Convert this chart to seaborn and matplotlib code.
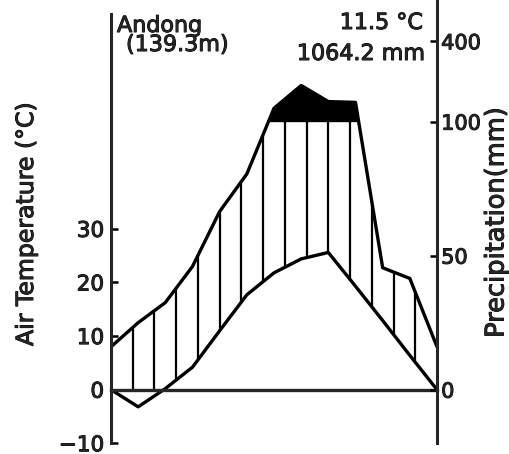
import numpy as np
import pandas as pd
import matplotlib
matplotlib.use('Agg')
import matplotlib.pyplot as plt
import matplotlib.patheffects as pe
import seaborn as sns

# climate diagram data, index 0 and 12 = December (closing the year)
months = list(range(13))
temperature = [0.0, -3.2, 0.2, 4.2, 11.0, 17.7, 21.8, 24.4, 25.6, 19.3, 12.9, 6.4, 0.0]
precipitation = [16.0, 25.0, 32.5, 46.0, 66.5, 80.5, 150.0, 235.0, 175.0, 172.0, 45.5, 41.5, 16.0]

temp_ticks = [-10, 0, 10, 20, 30]
prec_ticks = [0, 50, 100, 400]
station = 'Andong'
altitude = '(139.3m)'
mean_temp = '11.5 °C'
annual_prec = '1064.2 mm'


def prec_to_temp(p):
    # Walter-Lieth scale: 20 mm = 10 degC, above 100 mm reduced 1:10
    p = np.asarray(p, dtype=float)
    return np.where(p <= 100, p / 2.0, 50 + (p - 100) / 20.0)


df = pd.DataFrame({'month': months, 'temp': temperature,
                   'prec': prec_to_temp(precipitation)})

sns.set_style('white')
plt.rcParams['font.family'] = ['DejaVu Sans']
bold = [pe.withStroke(linewidth=0.7, foreground='black')]

W, H = 509, 454
fig = plt.figure(figsize=(W / 100, H / 100), dpi=100)
ax = fig.add_axes([111 / W, 0, 326 / W, 1])
ax.set_xlim(0, 12)
ax.set_ylim(-12, 72.7)
ax.patch.set_alpha(0)

# black area: precipitation above 100 mm
ax.fill_between(df['month'], 50, df['prec'], where=df['prec'] >= 50,
                interpolate=True, color='black', lw=0)

# vertical hatching for the humid period
hx = np.arange(1, 15) * 0.8
lo = np.maximum(np.interp(hx, df['month'], df['temp']), 0)
hi = np.minimum(np.interp(hx, df['month'], df['prec']), 50)
keep = hi > lo
ax.vlines(hx[keep], lo[keep], hi[keep], color='black', lw=1.6)

sns.lineplot(data=df, x='month', y='temp', ax=ax, color='black', lw=2.4)
sns.lineplot(data=df, x='month', y='prec', ax=ax, color='black', lw=2.4)

# axes
ax.spines['top'].set_visible(False)
ax.spines['right'].set_visible(False)
ax.spines['left'].set_bounds(-10, 70)
ax.spines['left'].set_linewidth(2.2)
ax.spines['bottom'].set_position(('data', 0))
ax.spines['bottom'].set_linewidth(2.4)
ax.set_xticks(range(1, 12))
ax.set_xticklabels([])
ax.tick_params(axis='x', direction='in', length=5, width=1.8, color='black')
ax.set_yticks(temp_ticks)
ax.set_yticklabels([f'{t}'.replace('-', '\u2212') for t in temp_ticks], fontsize=15.5)
ax.tick_params(axis='y', direction='in', length=5, width=1.8, pad=5, color='black')
ax.set_xlabel('')
ax.set_ylabel('')

ax2 = ax.twinx()
ax2.set_ylim(ax.get_ylim())
for s in ['top', 'left', 'bottom']:
    ax2.spines[s].set_visible(False)
ax2.spines['right'].set_bounds(-10, 72.5)
ax2.spines['right'].set_linewidth(2.2)
ax2.set_yticks(prec_to_temp(prec_ticks))
ax2.set_yticklabels([str(p) for p in prec_ticks], fontsize=15)
ax2.tick_params(axis='y', direction='in', length=5, width=1.8, pad=3, color='black')

for lab in ax.get_yticklabels() + ax2.get_yticklabels():
    lab.set_path_effects(bold)

fig.text(33 / W, 1 - 224 / H, 'Air Temperature (°C)', rotation=90,
         rotation_mode='anchor', ha='center', va='baseline', fontsize=17,
         path_effects=bold)
fig.text(503.5 / W, 1 - 222 / H, 'Precipitation(mm)', rotation=90,
         rotation_mode='anchor', ha='center', va='baseline', fontsize=18.5,
         path_effects=bold)

fig.text(117 / W, 1 - 32 / H, station, ha='left', va='baseline', fontsize=16,
         path_effects=bold)
fig.text(126 / W, 1 - 51 / H, altitude, ha='left', va='baseline', fontsize=16,
         path_effects=bold)
fig.text(423 / W, 1 - 29 / H, mean_temp, ha='right', va='baseline', fontsize=16,
         path_effects=bold)
fig.text(425 / W, 1 - 60 / H, annual_prec, ha='right', va='baseline', fontsize=16,
         path_effects=bold)

fig.savefig('out.png', dpi=100)
